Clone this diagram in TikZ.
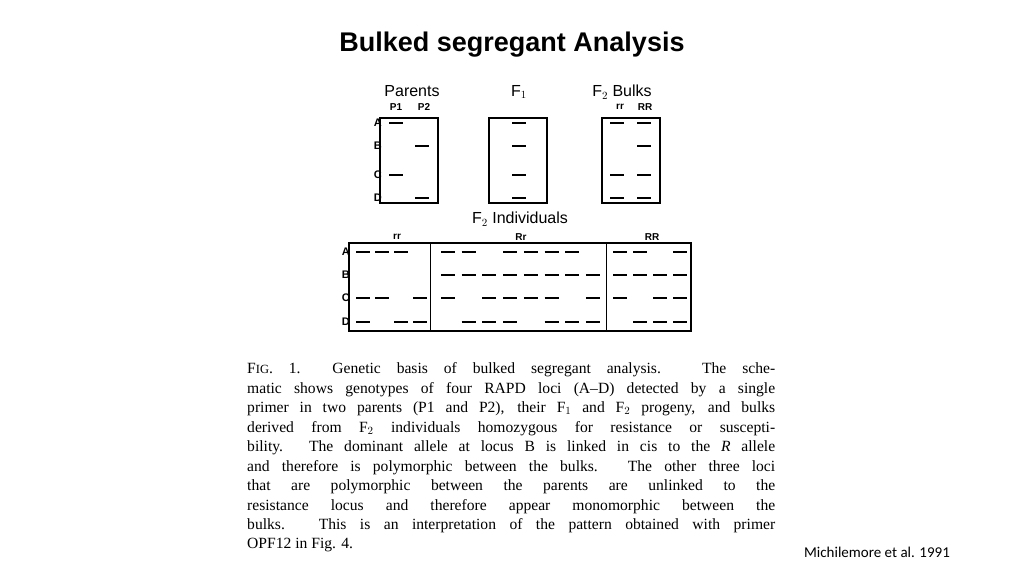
\documentclass[tikz,border=0pt]{standalone}
\usepackage{fontspec}
\setmainfont{Liberation Serif}
\setsansfont{Liberation Sans}
\newfontfamily\creditfont{Carlito}
\newcommand\gelband[2]{\draw[band] ({#1-7},#2) -- ({#1+7},#2);}
\newcommand\capline[3]{\node[cap line] (#1) at (247,#2) {\hbox to 528pt{#3}};}
\tikzset{
  band/.style={line width=2.8pt},
  gel box/.style={draw, line width=1.3pt, inner sep=0pt},
  gel head/.style={font=\sffamily\fontsize{16}{16}\selectfont, inner sep=0pt},
  gel sub/.style={font=\sffamily\bfseries\fontsize{10}{10}\selectfont, inner sep=0pt},
  row label/.style={font=\sffamily\bfseries\fontsize{11}{11}\selectfont, inner sep=0pt, anchor=east},
  cap line/.style={font=\fontsize{15.6}{16}\selectfont, inner sep=0pt, anchor=west},
}
\begin{document}
\begin{tikzpicture}[x=1pt, y=-1pt]
\useasboundingbox[fill=white] (0,0) rectangle (1024,575);
\node[font=\sffamily\bfseries\fontsize{27}{27}\selectfont] (title) at (512,45) {Bulked segregant Analysis};

% top gels
\node[gel box, minimum width=58pt, minimum height=85pt] (parents) at (409,160.5) {};
\node[gel box, minimum width=58pt, minimum height=85pt] (f1) at (518,160.5) {};
\node[gel box, minimum width=58pt, minimum height=85pt] (bulks) at (631,160.5) {};
\node[gel head] (parentsT) at (412,91) {Parents};
\node[gel sub] (p1) at (396,107) {P1};
\node[gel sub] (p2) at (424,107) {P2};
\node[gel head] (f1T) at (519,92) {F$_1$};
\node[gel head] (bulksT) at (622,92) {F$_2$ Bulks};
\node[gel sub] (bulkrr) at (620,107) {rr};
\node[gel sub] (bulkRR) at (645,107) {RR};
\foreach \l/\y in {A/123,B/146,C/175,D/198}
  \node[row label] (top\l) at (382,\y) {\l};
% P1: A C ; P2: B D ; F1: all ; rr: A C D ; RR: all
\foreach \y in {123,175} {\gelband{396}{\y}}
\foreach \y in {146,198} {\gelband{422}{\y}}
\foreach \y in {123,146,175,198} {\gelband{519}{\y} \gelband{644}{\y}}
\foreach \y in {123,175,198} {\gelband{617}{\y}}

% F2 individuals
\node[gel head] (indT) at (520,219) {F$_2$ Individuals};
\node[gel sub] (indrr) at (397,237) {rr};
\node[gel sub] (indRr) at (521,237) {Rr};
\node[gel sub] (indRR) at (652,237) {RR};
\node[gel box, minimum width=342pt, minimum height=88pt] (ind) at (520,287) {};
\draw[line width=1.3pt] (ind.north west) ++(82,0) coordinate (div1) -- (div1 |- ind.south);
\draw[line width=1.3pt] (ind.north west) ++(258,0) coordinate (div2) -- (div2 |- ind.south);
\foreach \l/\y in {A/252,B/275,C/298,D/322}
  \node[row label] (ind\l) at (350,\y) {\l};
% rr lanes
\foreach \y/\lanes in {252/{1,2,3},298/{1,2,4},322/{1,3,4}}
  {\foreach \i in \lanes {\gelband{363+19*(\i-1)}{\y}}}
% Rr lanes
\foreach \y/\lanes in {252/{1,2,4,5,6,7},275/{1,2,3,4,5,6,7,8},298/{1,3,4,5,6,8},322/{2,3,4,6,7,8}}
  {\foreach \i in \lanes {\gelband{448+20.7*(\i-1)}{\y}}}
% RR lanes
\foreach \y/\lanes in {252/{1,2,4},275/{1,2,3,4},298/{1,3,4},322/{2,3,4}}
  {\foreach \i in \lanes {\gelband{620+20*(\i-1)}{\y}}}

% caption
\capline{c1}{370}{F{\fontsize{12.5}{13}\selectfont IG}. 1.\ \ Genetic basis of bulked segregant analysis. The sche-}
\capline{c2}{389.5}{matic shows genotypes of four RAPD loci (A--D) detected by a single}
\capline{c3}{409}{primer in two parents (P1 and P2), their F$_1$ and F$_2$ progeny, and bulks}
\capline{c4}{428.5}{derived from F$_2$ individuals homozygous for resistance or suscepti-}
\capline{c5}{448}{bility. The dominant allele at locus B is linked in cis to the \textit{R} allele}
\capline{c6}{467.5}{and therefore is polymorphic between the bulks. The other three loci}
\capline{c7}{487}{that are polymorphic between the parents are unlinked to the}
\capline{c8}{506.5}{resistance locus and therefore appear monomorphic between the}
\capline{c9}{526}{bulks. This is an interpretation of the pattern obtained with primer}
\node[cap line] (c10) at (247,545.5) {OPF12 in Fig. 4.};
\node[font=\creditfont\fontsize{15}{15}\selectfont, inner sep=0pt] (credit) at (877,552) {Michilemore et al. 1991};
\end{tikzpicture}
\end{document}
